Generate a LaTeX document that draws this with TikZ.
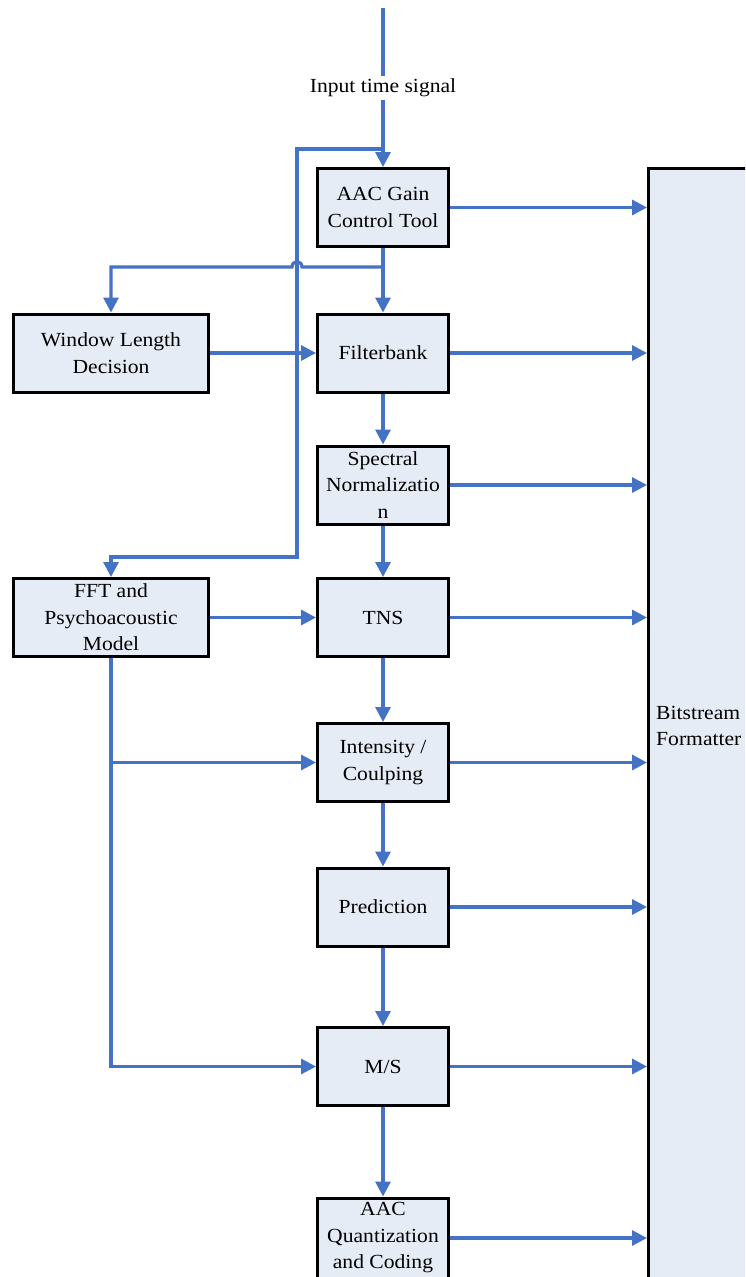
\documentclass[tikz,border=0pt]{standalone}
\usepackage{fontspec}
\setmainfont{Liberation Serif}[FakeStretch=1.08]
\usetikzlibrary{arrows.meta}
\definecolor{lineblue}{RGB}{68,114,196}
\definecolor{boxfill}{RGB}{230,236,246}
\begin{document}
\begin{tikzpicture}[x=1pt,y=-1pt,
  blk/.style={draw=black,line width=3pt,fill=boxfill,minimum width=131pt,minimum height=78pt,inner sep=0pt,align=center,font=\fontsize{20}{26.5}\selectfont},
  wideblk/.style={blk,minimum width=195pt},
  conn/.style={draw=lineblue,line width=3.2pt},
  arr/.style={conn,-{Triangle[length=15pt,width=15pt]}},
  lbl/.style={font=\fontsize{20}{26.5}\selectfont,inner sep=3pt}]
\clip (0,0) rectangle (745,1277);
\fill[white] (0,0) rectangle (745,1277);
% nodes
\node[draw=black,line width=3pt,fill=boxfill,minimum width=210pt,minimum height=1125pt,inner sep=0pt,anchor=north west] (bit) at (647,167) {};
\node[lbl,anchor=west,align=left,inner sep=0pt] (bitlbl) at (656,726) {Bitstream\\Formatter};
\node[blk] (gain) at (383,207.5) {AAC Gain\\Control Tool};
\node[wideblk] (win) at (111,353) {Window Length\\Decision};
\node[blk] (filt) at (383,353) {Filterbank};
\node[blk] (spec) at (383,485) {Spectral\\Normalizatio\\n};
\node[wideblk] (fft) at (111,617.5) {FFT and\\Psychoacoustic\\Model};
\node[blk] (tns) at (383,617.5) {TNS};
\node[blk] (int) at (383,762.5) {Intensity /\\Coulping};
\node[blk] (pred) at (383,907) {Prediction};
\node[blk] (ms) at (383,1066.5) {M/S};
\node[blk,minimum height=80pt] (quant) at (383,1238) {AAC\\Quantization\\and Coding};
\node[lbl] (inlbl) at (383,88) {Input time signal};
% coordinates
\coordinate (top) at (383,8);
\coordinate (j1) at (383,149);
\coordinate (loopB) at (297,557);
\coordinate (j2) at (383,267);
\coordinate (hopA) at (302,267);
\coordinate (hopB) at (292,267);
% connectors
\draw[conn] (top) -- (inlbl.north);
\draw[arr] (inlbl.south) -- (gain.north);
\draw[arr] (j1) -| (loopB) -| (fft.north);
\draw[arr] (gain.south) -- (filt.north);
\draw[arr] (j2) -- (hopA) .. controls +(0,-7) and +(0,-7) .. (hopB) -| (win.north);
\draw[arr] (win.east) -- (filt.west);
\draw[arr] (fft.east) -- (tns.west);
\draw[arr] (fft.south) |- (ms.west);
\draw[arr] (fft.south |- int.west) -- (int.west);
\draw[arr] (filt.south) -- (spec.north);
\draw[arr] (spec.south) -- (tns.north);
\draw[arr] (tns.south) -- (int.north);
\draw[arr] (int.south) -- (pred.north);
\draw[arr] (pred.south) -- (ms.north);
\draw[arr] (ms.south) -- (quant.north);
\foreach \n in {gain,filt,spec,tns,int,pred,ms,quant}
  \draw[arr] (\n.east) -- (\n.east -| bit.west);
\end{tikzpicture}
\end{document}
